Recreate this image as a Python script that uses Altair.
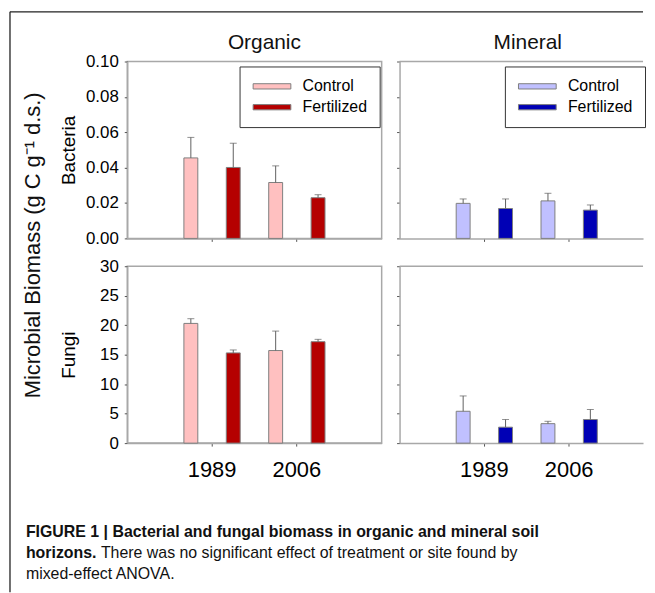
import altair as alt
import pandas as pd

# ---------------- data ----------------
years = ["1989", "2006"]
treatments = ["Control", "Fertilized"]
bar_year = ["1989", "1989", "2006", "2006"]
bar_treat = ["Control", "Fertilized", "Control", "Fertilized"]

org_bact_mean = [0.0455, 0.0401, 0.0316, 0.0230]
org_bact_upper = [0.0571, 0.0538, 0.0410, 0.0247]
min_bact_mean = [0.0198, 0.0169, 0.0212, 0.0160]
min_bact_upper = [0.0223, 0.0223, 0.0255, 0.0189]

org_fungi_mean = [20.3, 15.3, 15.7, 17.2]
org_fungi_upper = [21.1, 15.8, 19.0, 17.6]
min_fungi_mean = [5.4, 2.7, 3.3, 4.0]
min_fungi_upper = [8.0, 4.0, 3.7, 5.7]

bact_ticks = [0.0, 0.02, 0.04, 0.06, 0.08, 0.10]
fungi_ticks = [0, 5, 10, 15, 20, 25, 30]

organic_colors = ["#FFC0C0", "#B50000"]
mineral_colors = ["#C0C0FF", "#0000B5"]

col_titles = ["Organic", "Mineral"]
row_titles = ["Bacteria", "Fungi"]
y_title = "Microbial Biomass (g C g\u207b\u00b9 d.s.)"
cap1 = "FIGURE 1 | Bacterial and fungal biomass in organic and mineral soil"
cap2a = "horizons."
cap2b = "There was no significant effect of treatment or site found by"
cap3 = "mixed-effect ANOVA."

# ---------------- styling ----------------
FONT = "Liberation Sans, Arial, Helvetica, sans-serif"
W, WM, H = 256, 245, 178
FRAME = "#A8A8A8"
BARSTROKE = "#7f7f7f"
ERR = "#606060"
# legend swatch: 38 x 5 px rectangle (unit scaled by sqrt(size)/2)
SWATCH = "M-1,-0.42L5,-0.42L5,0.42L-1,0.42Z"

one = pd.DataFrame({"k": [0]})


def make_df(mean, upper):
    return pd.DataFrame({"year": bar_year, "treatment": bar_treat,
                         "value": mean, "upper": upper})


def text_layer(txt, x, y, size, weight="normal", angle=0, align="center",
               baseline="alphabetic"):
    return alt.Chart(one).mark_text(font=FONT, fontSize=size, fontWeight=weight,
                                    angle=angle, align=align, baseline=baseline,
                                    color="#111111").encode(
        x=alt.value(x), y=alt.value(y), text=alt.value(txt))


def panel(mean, upper, ydom, yticks, yfmt, colors, row_title, left_labels,
          bottom_labels, legend_x, width, xscale, extra=()):
    df = make_df(mean, upper)
    base = alt.Chart(df)
    xenc = alt.X("year:N", sort=years, scale=xscale,
                 axis=alt.Axis(title=None, labels=bottom_labels, labelAngle=0,
                               labelFontSize=22, labelFont=FONT, labelColor="black",
                               labelPadding=14, tickSize=3, tickColor="#555555",
                               domainColor=FRAME, domainWidth=1.5))
    xoff = alt.XOffset("treatment:N", sort=treatments,
                       scale=alt.Scale(domain=treatments, paddingInner=0.672,
                                       paddingOuter=0.336))
    yaxis = alt.Axis(values=yticks, tickCount=len(yticks) + 2, format=yfmt,
                     labels=left_labels, labelOverlap=False,
                     title=row_title, titleFont=FONT, titleFontSize=19,
                     titleFontWeight="normal", titleColor="black",
                     titleX=-59, titleY=H / 2, titleAngle=270,
                     titleBaseline="middle", titleAlign="center",
                     labelFont=FONT, labelFontSize=17, labelColor="black",
                     labelPadding=6, tickSize=3, tickColor="#555555",
                     domainColor=FRAME, domainWidth=1.5)
    yenc = alt.Y("value:Q", scale=alt.Scale(domain=ydom, nice=False, zero=True),
                 axis=yaxis)
    if legend_x is not None:
        legend = alt.Legend(title=None, orient="none", legendX=legend_x, legendY=5,
                            fillColor="white", strokeColor="#333333",
                            padding=12, rowPadding=5, labelOffset=35.4,
                            labelFont=FONT, labelFontSize=16, labelColor="black",
                            symbolType=SWATCH, symbolSize=160,
                            symbolStrokeColor=BARSTROKE, symbolStrokeWidth=1,
                            symbolOpacity=1)
    else:
        legend = None
    color = alt.Color("treatment:N", sort=treatments,
                      scale=alt.Scale(domain=treatments, range=colors),
                      legend=legend)
    bars = base.mark_bar(stroke=BARSTROKE, strokeWidth=1, opacity=1).encode(
        x=xenc, xOffset=xoff, y=yenc, color=color)
    err = base.mark_rule(color=ERR, strokeWidth=1).encode(
        x=xenc, xOffset=xoff, y="value:Q", y2="upper:Q")
    cap = base.mark_tick(orient="horizontal", size=7, thickness=1, color=ERR).encode(
        x=xenc, xOffset=xoff, y="upper:Q")
    layers = [bars, err, cap] + list(extra)
    return alt.layer(*layers).properties(width=width, height=H)


# organic x scale: 256 px wide, year bands centred at 1/3 and 2/3
org_x = alt.Scale(domain=years, paddingInner=0, paddingOuter=0.5)
# mineral panel is cut at the page edge (245 px) but keeps the same band step
min_x = alt.Scale(domain=years, paddingInner=0, paddingOuter=0.43555, align=0.574)

# frame lines of the figure and the shared y title (relative to the first panel)
frame_left = alt.Chart(one).mark_rule(color="#222222", strokeWidth=1.3).encode(
    x=alt.value(-118), y=alt.value(-50), y2=alt.value(534))
frame_top = alt.Chart(one).mark_rule(color="#222222", strokeWidth=1.3).encode(
    x=alt.value(-118), x2=alt.value(519), y=alt.value(-50))
big_title = text_layer(y_title, -95, 185, 22, angle=270, baseline="middle")


def top_line():
    return alt.Chart(one).mark_rule(color=FRAME, strokeWidth=1.5).encode(
        x=alt.value(0), x2=alt.value(WM), y=alt.value(0))


org_b = panel(org_bact_mean, org_bact_upper, [0, 0.10], bact_ticks, ".2f",
              organic_colors, row_titles[0], True, False, 113, W, org_x,
              extra=[frame_left, frame_top, big_title,
                     text_layer(col_titles[0], 138, -13, 21)])
min_b = panel(min_bact_mean, min_bact_upper, [0, 0.10], bact_ticks, ".2f",
              mineral_colors, None, False, False, 106, WM, min_x,
              extra=[top_line(), text_layer(col_titles[1], 129, -13, 21)]
              ).properties(view=alt.ViewBackground(stroke="transparent"))
org_f = panel(org_fungi_mean, org_fungi_upper, [0, 30], fungi_ticks, "d",
              organic_colors, row_titles[1], True, True, None, W, org_x,
              extra=[text_layer(cap1, -102, 272, 16, "bold", align="left"),
                     text_layer(cap2a, -102, 293.5, 16, "bold", align="left"),
                     text_layer(cap2b, -26.5, 293.5, 16, align="left"),
                     text_layer(cap3, -102, 315, 16, align="left")])
min_f = panel(min_fungi_mean, min_fungi_upper, [0, 30], fungi_ticks, "d",
              mineral_colors, None, False, True, None, WM, min_x,
              extra=[top_line()]
              ).properties(view=alt.ViewBackground(stroke="transparent"))

chart = alt.concat(org_b, min_b, org_f, min_f, columns=2,
                   spacing={"row": 28, "column": 18}, bounds="flush",
                   align="each", padding=0).resolve_scale(
    x="independent", y="independent", color="independent"
).configure_view(stroke=FRAME, strokeWidth=1.5).configure_axis(grid=False)

chart.save("out.html", embed_options={"renderer": "svg", "actions": False})
